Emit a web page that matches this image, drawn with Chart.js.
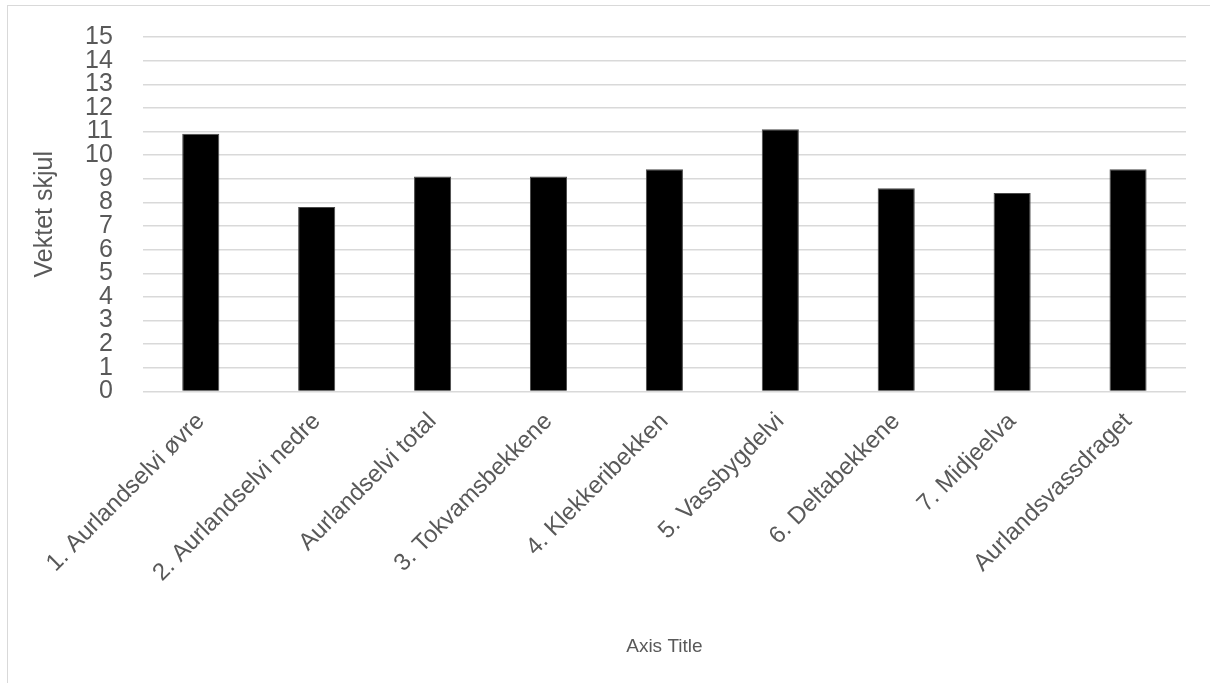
<!DOCTYPE html>
<html>
<head>
<meta charset="utf-8">
<script src="https://cdn.jsdelivr.net/npm/chart.js@4"></script>
<style>
  body { margin: 0; background: #fff; overflow: hidden; }
  #wrap { position: relative; width: 1210px; height: 683px; }
  #frame { position: absolute; left: 7px; top: 5px; width: 1300px; height: 800px; border: 1.5px solid #d9d9d9; }
  canvas { position: absolute; left: 0; top: 0; }
</style>
</head>
<body>
<div id="wrap">
  <div id="frame"></div>
  <canvas id="myChart" width="1210" height="683"></canvas>
</div>
<script>
const categories = ['1. Aurlandselvi øvre', '2. Aurlandselvi nedre', 'Aurlandselvi total', '3. Tokvamsbekkene',
  '4. Klekkeribekken', '5. Vassbygdelvi', '6. Deltabekkene', '7. Midjeelva', 'Aurlandsvassdraget'];
const values = [10.9, 7.8, 9.1, 9.1, 9.4, 11.1, 8.6, 8.4, 9.4];
const yTicks = [0, 1, 2, 3, 4, 5, 6, 7, 8, 9, 10, 11, 12, 13, 14, 15];

const ctx = document.getElementById('myChart');
const font = 'Liberation Sans';
const grey = '#595959';

new Chart(ctx, {
  type: 'bar',
  data: {
    labels: categories,
    datasets: [{
      label: '',
      data: values,
      backgroundColor: '#000',
      borderColor: '#4a4a4a',
      borderWidth: 1,
      barPercentage: 0.32,
      categoryPercentage: 1,
    }]
  },
  options: {
    responsive: false,
    animation: false,
    layout: {
      padding: { top: 37, right: 24, bottom: 25, left: 30 }
    },
    plugins: {
      legend: { display: false },
      tooltip: { enabled: false }
    },
    scales: {
      x: {
        border: { display: false },
        grid: { display: false },
        ticks: {
          color: grey,
          font: { family: font, size: 24 },
          maxRotation: 45,
          minRotation: 45,
          autoSkip: false,
          padding: 8
        },
        title: {
          display: true,
          text: 'Axis Title',
          color: grey,
          font: { family: font, size: 19 },
          padding: { top: 40, bottom: 0 }
        }
      },
      y: {
        min: yTicks[0],
        max: yTicks[yTicks.length - 1],
        afterBuildTicks: (axis) => { axis.ticks = yTicks.map(v => ({ value: v })); },
        // top label may stick out above the plot, like in the original
        afterFit: (axis) => { axis.paddingTop = 0; },
        border: { display: false },
        grid: { color: '#d9d9d9', lineWidth: 1.5, drawTicks: false },
        ticks: {
          color: grey,
          font: { family: font, size: 25, lineHeight: 1 },
          autoSkip: false,
          padding: 30
        },
        title: {
          display: true,
          text: 'Vektet skjul',
          color: grey,
          font: { family: font, size: 25 },
          padding: { top: 0, bottom: -5 }
        }
      }
    }
  }
});
</script>
</body>
</html>
